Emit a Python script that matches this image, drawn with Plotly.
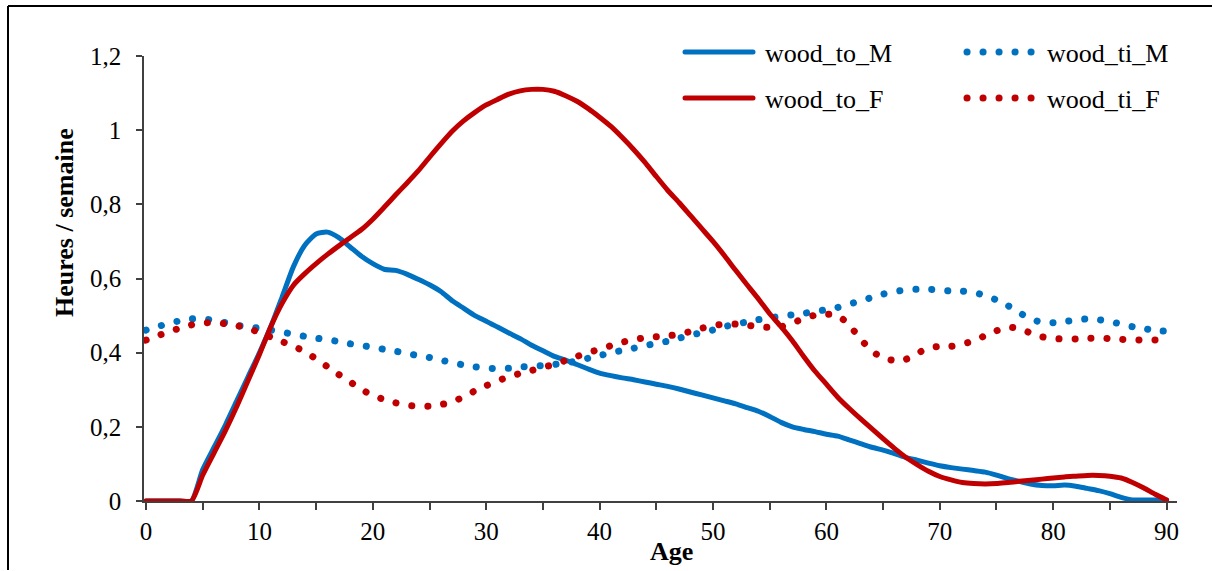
import plotly.graph_objects as go

ages = list(range(0, 91))

wood_to_M = [0, 0, 0, 0, 0, 0.085, 0.145, 0.205, 0.27, 0.335,
             0.4, 0.47, 0.55, 0.632, 0.69, 0.72, 0.725, 0.71, 0.685, 0.66,
             0.64, 0.625, 0.622, 0.612, 0.598, 0.583, 0.565, 0.54, 0.52, 0.5,
             0.485, 0.469, 0.453, 0.438, 0.42, 0.405, 0.39, 0.38, 0.368, 0.356,
             0.345, 0.338, 0.332, 0.327, 0.321, 0.315, 0.309, 0.302, 0.294, 0.286,
             0.278, 0.27, 0.262, 0.252, 0.242, 0.228, 0.212, 0.2, 0.193, 0.187,
             0.18, 0.175, 0.165, 0.155, 0.145, 0.137, 0.128, 0.117, 0.11, 0.102,
             0.095, 0.09, 0.086, 0.082, 0.078, 0.07, 0.06, 0.053, 0.046, 0.042,
             0.041, 0.043, 0.04, 0.034, 0.028, 0.02, 0.01, 0.003, 0.003, 0.003,
             0.003]

wood_ti_M = [0.461, 0.47, 0.479, 0.486, 0.491, 0.491, 0.487, 0.481, 0.474, 0.469,
             0.466, 0.461, 0.455, 0.45, 0.444, 0.439, 0.435, 0.43, 0.424, 0.419,
             0.415, 0.409, 0.404, 0.398, 0.392, 0.387, 0.38, 0.373, 0.367, 0.362,
             0.358, 0.357, 0.358, 0.361, 0.363, 0.365, 0.368, 0.372, 0.378, 0.385,
             0.392, 0.4, 0.406, 0.412, 0.419, 0.425, 0.431, 0.439, 0.447, 0.454,
             0.461, 0.47, 0.477, 0.483, 0.489, 0.494, 0.498, 0.502, 0.506, 0.511,
             0.516, 0.522, 0.531, 0.539, 0.549, 0.558, 0.565, 0.569, 0.571, 0.571,
             0.569, 0.566, 0.566, 0.562, 0.554, 0.542, 0.527, 0.508, 0.491, 0.482,
             0.481, 0.484, 0.488, 0.491, 0.489, 0.484, 0.477, 0.47, 0.465, 0.46,
             0.458]

wood_to_F = [0, 0, 0, 0, 0, 0.07, 0.13, 0.19, 0.255, 0.325,
             0.395, 0.47, 0.533, 0.582, 0.613, 0.64, 0.665, 0.688, 0.71, 0.732,
             0.76, 0.792, 0.825, 0.857, 0.89, 0.927, 0.963, 0.997, 1.025, 1.048,
             1.068, 1.083, 1.097, 1.106, 1.11, 1.11, 1.105, 1.093, 1.078, 1.058,
             1.035, 1.01, 0.98, 0.948, 0.913, 0.875, 0.838, 0.805, 0.77, 0.735,
             0.7, 0.662, 0.622, 0.583, 0.545, 0.505, 0.47, 0.432, 0.39, 0.35,
             0.315, 0.28, 0.25, 0.222, 0.195, 0.168, 0.142, 0.118, 0.098, 0.08,
             0.066, 0.057, 0.05, 0.047, 0.046, 0.047, 0.05, 0.053, 0.056, 0.059,
             0.062, 0.065, 0.067, 0.069, 0.069, 0.067, 0.062, 0.05, 0.035, 0.018,
             0.003]

wood_ti_F = [0.434, 0.445, 0.457, 0.466, 0.475, 0.48, 0.481, 0.478, 0.473, 0.465,
             0.455, 0.442, 0.43, 0.417, 0.403, 0.383, 0.362, 0.341, 0.321, 0.301,
             0.284, 0.274, 0.265, 0.259, 0.255, 0.256, 0.26, 0.267, 0.281, 0.297,
             0.311, 0.324, 0.335, 0.344, 0.352, 0.36, 0.369, 0.379, 0.39, 0.4,
             0.409, 0.419, 0.428, 0.435, 0.44, 0.443, 0.445, 0.45, 0.457, 0.466,
             0.473, 0.477, 0.477, 0.474, 0.47, 0.468, 0.47, 0.48, 0.492, 0.501,
             0.504, 0.5, 0.475, 0.437, 0.405, 0.385, 0.379, 0.382, 0.398, 0.412,
             0.417, 0.417, 0.423, 0.432, 0.446, 0.459, 0.469, 0.465, 0.453, 0.443,
             0.438, 0.437, 0.437, 0.439, 0.439, 0.438, 0.436, 0.435, 0.434, 0.434,
             0.434]

BLUE = "#0070C0"
RED = "#C00000"
FONT = "Liberation Serif"
DOT = "0.1px,15.9px"

fig = go.Figure()
fig.add_trace(go.Scatter(x=ages, y=wood_to_M, name="wood_to_M", mode="lines",
                         line=dict(color=BLUE, width=5, shape="spline", smoothing=0.6),
                         legend="legend", legendwidth=190))
fig.add_trace(go.Scatter(x=ages, y=wood_ti_M, name="wood_ti_M", mode="lines",
                         line=dict(color=BLUE, width=7, dash=DOT, shape="spline", smoothing=0.6),
                         legend="legend", legendwidth=125))
fig.add_trace(go.Scatter(x=ages, y=wood_to_F, name="wood_to_F", mode="lines",
                         line=dict(color=RED, width=5, shape="spline", smoothing=0.6),
                         legend="legend2", legendwidth=190))
fig.add_trace(go.Scatter(x=ages, y=wood_ti_F, name="wood_ti_F", mode="lines",
                         line=dict(color=RED, width=7, dash=DOT, shape="spline", smoothing=0.6),
                         legend="legend2", legendwidth=125))

W, H = 1213, 571
L, R, T, B = 144, 36, 56, 70
pw, ph = W - L - R, H - T - B

def px(x):
    return (x - L) / pw

def py(y):
    return (H - B - y) / ph

legend_common = dict(orientation="h", xanchor="left", yanchor="middle",
                     font=dict(family=FONT, size=26, color="black"),
                     bgcolor="rgba(0,0,0,0)", itemwidth=77,
                     traceorder="normal", itemclick=False)

fig.update_layout(
    width=W, height=H,
    margin=dict(l=L, r=R, t=T, b=B, autoexpand=False),
    paper_bgcolor="white", plot_bgcolor="white",
    separators=", ",
    font=dict(family=FONT, size=25, color="black"),
    showlegend=True,
    legend=dict(x=px(678), y=py(52), **legend_common),
    legend2=dict(x=px(678), y=py(98), **legend_common),
    xaxis=dict(range=[-0.18, 90.92], tickmode="linear", tick0=0, dtick=10,
               ticks="outside", ticklen=7, tickwidth=1.5, tickcolor="#404040",
               minor=dict(dtick=5, ticks="outside", ticklen=7, tickwidth=1.5,
                          tickcolor="#404040", showgrid=False),
               showline=True, linecolor="#404040", linewidth=1.5,
               showgrid=False, zeroline=False,
               tickfont=dict(family=FONT, size=25, color="black")),
    yaxis=dict(range=[0, 1.2], tickmode="linear", tick0=0, dtick=0.2,
               ticks="outside", ticklen=6, tickwidth=1.5, tickcolor="#404040",
               showline=True, linecolor="#404040", linewidth=1.5,
               showgrid=False, zeroline=False, ticklabelstandoff=10,
               tickfont=dict(family=FONT, size=25, color="black")),
    annotations=[
        dict(text="<b>Age</b>", xref="paper", yref="paper", x=px(671), y=py(551),
             xanchor="center", yanchor="middle", showarrow=False,
             font=dict(family=FONT, size=26, color="black")),
        dict(text="<b>Heures / semaine</b>", xref="paper", yref="paper", x=px(64),
             y=py(223), xanchor="center", yanchor="middle", showarrow=False,
             textangle=-90, font=dict(family=FONT, size=26, color="black")),
    ],
    shapes=[
        dict(type="line", xref="paper", yref="paper",
             x0=px(8), x1=px(1212), y0=py(6), y1=py(6),
             line=dict(color="black", width=2), layer="above"),
        dict(type="line", xref="paper", yref="paper",
             x0=px(8), x1=px(8), y0=py(6), y1=py(570),
             line=dict(color="black", width=2), layer="above"),
    ],
)

post = """
var s=document.createElement('style');
s.innerHTML='.js-line{stroke-linecap:round !important;stroke-linejoin:round !important} html,body{margin:0;padding:0;overflow:hidden;}';
document.head.appendChild(s);
document.querySelectorAll('.legendlines path').forEach(function(p){p.setAttribute('d','M7,0h68');});
"""

fig.write_html("out.html", post_script=post, config={"displayModeBar": False})
